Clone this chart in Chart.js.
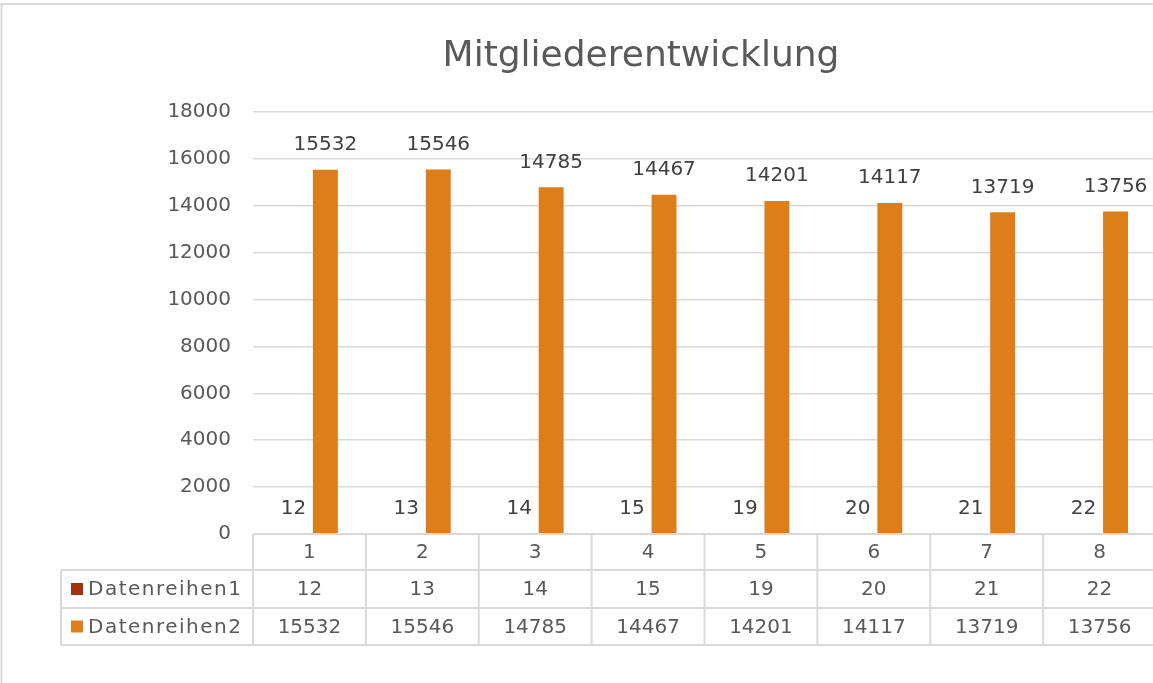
<!DOCTYPE html>
<html><head><meta charset="utf-8">
<script src="https://cdn.jsdelivr.net/npm/chart.js@4.4.1/dist/chart.umd.min.js"></script>
<style>html,body{margin:0;padding:0;overflow:hidden;background:#fff;width:1153px;height:683px}
#wrap{position:relative;width:1160px;height:683px}</style>
</head><body><div id="wrap"><canvas id="c" width="1160" height="683"></canvas></div>
<script>
const chartTitle = 'Mitgliederentwicklung';
const categories = ['1', '2', '3', '4', '5', '6', '7', '8'];
const seriesNames = ['Datenreihen1', 'Datenreihen2'];
const series1 = [12, 13, 14, 15, 19, 20, 21, 22];
const series2 = [15532, 15546, 14785, 14467, 14201, 14117, 13719, 13756];
const yMin = 0, yMax = 18000, yStep = 2000;
const seriesColors = ['#A5300F', '#DE7E1A'];

const FONT = '"DejaVu Sans", sans-serif';
const TEXT = '#595959';
const LINE = '#d9d9d9';

const framePlugin = {
  id: 'frame',
  beforeDraw(chart) {
    const ctx = chart.ctx;
    ctx.save();
    ctx.fillStyle = '#fff';
    ctx.fillRect(0, 0, chart.width, chart.height);
    ctx.strokeStyle = LINE;
    ctx.lineWidth = 2;
    ctx.beginPath();
    ctx.moveTo(0, 4); ctx.lineTo(chart.width, 4);
    ctx.moveTo(1.5, 3); ctx.lineTo(1.5, chart.height);
    ctx.stroke();
    ctx.fillStyle = TEXT;
    ctx.font = '36px ' + FONT;
    ctx.textAlign = 'center';
    ctx.textBaseline = 'middle';
    ctx.fillText(chartTitle, 641, 57);
    ctx.restore();
  }
};

const labelPlugin = {
  id: 'dataLabels',
  afterDatasetsDraw(chart) {
    const ctx = chart.ctx;
    ctx.save();
    ctx.fillStyle = '#404040';
    ctx.font = '20px ' + FONT;
    ctx.textAlign = 'center';
    ctx.textBaseline = 'middle';
    chart.data.datasets.forEach((ds, di) => {
      const meta = chart.getDatasetMeta(di);
      meta.data.forEach((el, i) => {
        ctx.fillText(String(ds.data[i]), el.x, el.y - 25);
      });
    });
    ctx.restore();
  }
};

const tablePlugin = {
  id: 'dataTable',
  afterDraw(chart) {
    const ctx = chart.ctx;
    const xs = chart.scales.x;
    const area = chart.chartArea;
    const n = categories.length;
    const top = area.bottom;
    const rows = [top, top + 36, top + 74, top + 111];
    const legendLeft = 61;
    const bounds = [];
    for (let i = 0; i <= n; i++) bounds.push(xs.getPixelForValue(i - 0.5));
    ctx.save();
    ctx.strokeStyle = LINE;
    ctx.lineWidth = 2;
    ctx.beginPath();
    ctx.moveTo(bounds[0], rows[0]); ctx.lineTo(bounds[n] + 2, rows[0]);
    for (let r = 1; r < rows.length; r++) {
      ctx.moveTo(legendLeft, rows[r]); ctx.lineTo(bounds[n] + 2, rows[r]);
    }
    for (let i = 0; i <= n; i++) {
      ctx.moveTo(bounds[i], rows[0]); ctx.lineTo(bounds[i], rows[3]);
    }
    ctx.moveTo(legendLeft, rows[1]); ctx.lineTo(legendLeft, rows[3]);
    ctx.stroke();

    ctx.fillStyle = TEXT;
    ctx.font = '20px ' + FONT;
    ctx.textAlign = 'center';
    ctx.textBaseline = 'middle';
    const allRows = [categories, series1, series2];
    for (let r = 0; r < 3; r++) {
      const cy = (rows[r] + rows[r + 1]) / 2 + 1;
      for (let i = 0; i < n; i++) {
        ctx.fillText(String(allRows[r][i]), (bounds[i] + bounds[i + 1]) / 2, cy);
      }
    }
    ctx.textAlign = 'left';
    if ('letterSpacing' in ctx) ctx.letterSpacing = '1.5px';
    for (let s = 0; s < seriesNames.length; s++) {
      const cy = (rows[s + 1] + rows[s + 2]) / 2;
      ctx.fillStyle = seriesColors[s];
      ctx.fillRect(71, cy - 6, 12, 12);
      ctx.fillStyle = TEXT;
      ctx.fillText(seriesNames[s], 88, cy + 1);
    }
    ctx.restore();
  }
};

Chart.defaults.font.family = FONT;
Chart.defaults.color = TEXT;

new Chart(document.getElementById('c'), {
  type: 'bar',
  data: {
    labels: categories,
    datasets: [
      { label: seriesNames[0], data: series1, backgroundColor: seriesColors[0], categoryPercentage: 0.566, barPercentage: 0.78 },
      { label: seriesNames[1], data: series2, backgroundColor: seriesColors[1], categoryPercentage: 0.566, barPercentage: 0.78 }
    ]
  },
  options: {
    responsive: false,
    animation: false,
    layout: { padding: { top: 112, bottom: 149, left: 0, right: 4 } },
    plugins: { legend: { display: false }, title: { display: false }, tooltip: { enabled: false } },
    scales: {
      x: { display: false },
      y: {
        min: yMin, max: yMax,
        ticks: { stepSize: yStep, padding: 22, color: TEXT, font: { size: 20 }, callback: (v) => String(v) },
        grid: { color: LINE, lineWidth: 1.5, drawTicks: false },
        border: { display: false },
        afterFit(scale) { scale.width = 253; }
      }
    }
  },
  plugins: [framePlugin, labelPlugin, tablePlugin]
});
</script></body></html>
